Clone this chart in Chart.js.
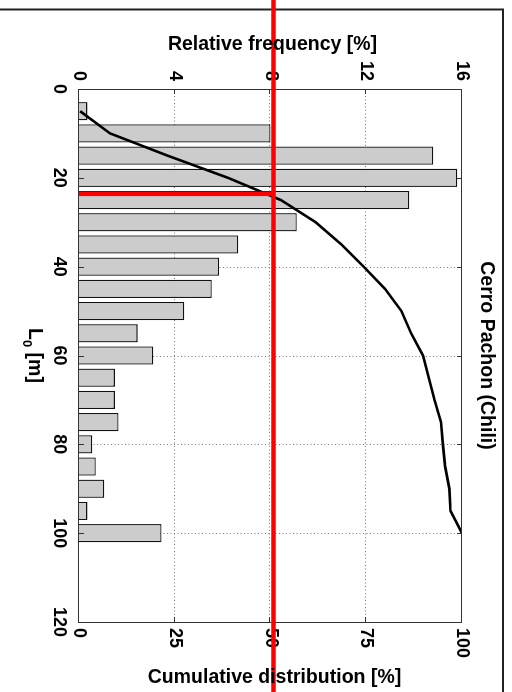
<!DOCTYPE html>
<html>
<head>
<meta charset="utf-8">
<script src="https://cdn.jsdelivr.net/npm/chart.js@4"></script>
<style>
  html, body { margin: 0; padding: 0; background: #fff; overflow: hidden; }
  #wrap {
    position: absolute; left: 0; top: 0;
    width: 692px; height: 512px;
    transform-origin: 0 0;
    transform: translate(512px, 0) rotate(90deg);
  }
  canvas { display: block; }
</style>
</head>
<body>
<div id="wrap"><canvas id="c" width="692" height="512" style="width:692px;height:512px"></canvas></div>
<script>
// ---- data ----
const L0 = [5, 10, 15, 20, 25, 30, 35, 40, 45, 50, 55, 60, 65, 70, 75, 80, 85, 90, 95, 100];
const relFreq = [0.35, 8.0, 14.8, 15.8, 13.8, 9.1, 6.65, 5.85, 5.55, 4.4, 2.45, 3.1, 1.5, 1.5, 1.65, 0.55, 0.7, 1.05, 0.35, 3.45];
const cumDist = [0.3, 8.1, 23.1, 38.9, 52.7, 61.8, 68.5, 74.3, 79.9, 84.2, 86.7, 89.8, 91.3, 92.8, 94.5, 95.0, 95.6, 96.7, 97.0, 100];
const L0Ticks = [0, 20, 40, 60, 80, 100, 120];
const freqTicks = [0, 4, 8, 12, 16];
const cumTicks = [0, 25, 50, 75, 100];
const medianCum = 50.8;   // red reference line (cumulative %)
const medianL0 = 23.6;    // red reference line (L0 in m)
const titleText = 'Cerro Pachon (Chili)';
const freqTitle = 'Relative frequency [%]';
const cumTitle = 'Cumulative distribution [%]';

const FONT = 'Arial, "Liberation Sans", Helvetica, sans-serif';

const decor = {
  id: 'decor',
  beforeDatasetsDraw(chart) {
    const { ctx, chartArea: a, scales } = chart;
    ctx.save();
    ctx.strokeStyle = '#777';
    ctx.lineWidth = 1;
    ctx.setLineDash([1, 2.5]);
    L0Ticks.slice(1, -1).forEach(v => {
      const x = Math.round(scales.x.getPixelForValue(v)) + 0.5;
      ctx.beginPath(); ctx.moveTo(x, a.top); ctx.lineTo(x, a.bottom); ctx.stroke();
    });
    freqTicks.slice(1, -1).forEach(v => {
      const y = Math.round(scales.y.getPixelForValue(v)) + 0.5;
      ctx.beginPath(); ctx.moveTo(a.left, y); ctx.lineTo(a.right, y); ctx.stroke();
    });
    ctx.restore();
  },
  afterDatasetsDraw(chart) {
    const { ctx, chartArea: a, scales } = chart;
    ctx.save();
    // plot box
    ctx.strokeStyle = '#333';
    ctx.lineWidth = 1;
    ctx.strokeRect(Math.round(a.left) + 0.5, Math.round(a.top) + 0.5,
                   Math.round(a.right - a.left), Math.round(a.bottom - a.top));
    // inward ticks
    const tl = 5;
    ctx.beginPath();
    L0Ticks.slice(1, -1).forEach(v => {
      const x = Math.round(scales.x.getPixelForValue(v)) + 0.5;
      ctx.moveTo(x, a.bottom); ctx.lineTo(x, a.bottom - tl);
      ctx.moveTo(x, a.top); ctx.lineTo(x, a.top + tl);
    });
    freqTicks.slice(1, -1).forEach(v => {
      const y = Math.round(scales.y.getPixelForValue(v)) + 0.5;
      ctx.moveTo(a.left, y); ctx.lineTo(a.left + tl, y);
    });
    cumTicks.slice(1, -1).forEach(v => {
      const y = Math.round(scales.y2.getPixelForValue(v)) + 0.5;
      ctx.moveTo(a.right, y); ctx.lineTo(a.right - tl, y);
    });
    ctx.stroke();

    // outer frame (partial, as in the reference)
    ctx.strokeStyle = '#222';
    ctx.lineWidth = 2;
    ctx.beginPath();
    ctx.moveTo(9.5, 512); ctx.lineTo(9.5, 9); ctx.lineTo(692, 9);
    ctx.stroke();

    // red reference lines
    ctx.strokeStyle = '#ff0000';
    ctx.lineWidth = 4.5;
    const yMed = scales.y2.getPixelForValue(medianCum);
    const xMed = scales.x.getPixelForValue(medianL0);
    ctx.beginPath();
    ctx.moveTo(0, yMed); ctx.lineTo(chart.width, yMed);
    ctx.moveTo(xMed, a.bottom); ctx.lineTo(xMed, yMed);
    ctx.stroke();

    // titles
    ctx.fillStyle = '#000';
    ctx.font = 'bold 19.5px ' + FONT;
    ctx.textAlign = 'center';
    ctx.textBaseline = 'middle';
    const cx = (a.left + a.right) / 2;
    const cy = (a.top + a.bottom) / 2;
    ctx.fillText(titleText, cx, 25.5);

    ctx.save();
    ctx.translate(45, cy - 2);
    ctx.rotate(-Math.PI / 2);
    ctx.fillText(freqTitle, 0, 0);
    ctx.restore();

    ctx.save();
    ctx.translate(678, cy - 4);
    ctx.rotate(-Math.PI / 2);
    ctx.fillText(cumTitle, 0, 0);
    ctx.restore();

    // L0 [m] with subscript
    ctx.textBaseline = 'alphabetic';
    ctx.textAlign = 'left';
    const big = 'bold 19.5px ' + FONT, small = 'bold 13px ' + FONT;
    ctx.font = big; const wL = ctx.measureText('L').width;
    ctx.font = small; const w0 = ctx.measureText('0').width;
    ctx.font = big; const wR = ctx.measureText(' [m]').width;
    let x0 = cx - (wL + w0 + wR) / 2;
    const base = 483;
    ctx.font = big; ctx.fillText('L', x0, base);
    ctx.font = small; ctx.fillText('0', x0 + wL, base + 6);
    ctx.font = big; ctx.fillText(' [m]', x0 + wL + w0, base);
    ctx.restore();
  }
};

const tickFont = { family: FONT, size: 18, weight: 'bold' };

new Chart(document.getElementById('c'), {
  type: 'bar',
  data: {
    datasets: [
      {
        type: 'line',
        label: 'Cumulative',
        data: L0.map((v, i) => ({ x: v, y: cumDist[i] })),
        yAxisID: 'y2',
        borderColor: '#000',
        borderWidth: 2.6,
        pointRadius: 0,
        tension: 0,
        fill: false,
        order: 0
      },
      {
        type: 'bar',
        label: 'Relative frequency',
        data: L0.map((v, i) => ({ x: v, y: relFreq[i] })),
        yAxisID: 'y',
        backgroundColor: '#cccccc',
        borderColor: '#111',
        borderWidth: 1.3,
        categoryPercentage: 1,
        barPercentage: 0.82,
        order: 1
      }
    ]
  },
  options: {
    responsive: false,
    animation: false,
    devicePixelRatio: 1,
    layout: { padding: { top: 50, left: 0, right: 0, bottom: 0 } },
    plugins: { legend: { display: false }, tooltip: { enabled: false }, title: { display: false } },
    scales: {
      x: {
        type: 'linear', position: 'bottom', min: 0, max: 120, offset: false,
        afterBuildTicks: s => { s.ticks = L0Ticks.map(v => ({ value: v })); },
        ticks: { font: tickFont, color: '#000', padding: 9, maxRotation: 0, minRotation: 0, autoSkip: false },
        grid: { display: false, drawTicks: false },
        border: { display: false },
        afterFit: s => { s.height = 79; }
      },
      y: {
        type: 'linear', position: 'left', min: 0, max: 16,
        afterBuildTicks: s => { s.ticks = freqTicks.map(v => ({ value: v })); },
        ticks: { font: tickFont, color: '#000', padding: 8 },
        grid: { display: false, drawTicks: false },
        border: { display: false },
        afterFit: s => { s.width = 89; }
      },
      y2: {
        type: 'linear', position: 'right', min: 0, max: 100,
        afterBuildTicks: s => { s.ticks = cumTicks.map(v => ({ value: v })); },
        ticks: { font: tickFont, color: '#000', padding: 6 },
        grid: { display: false, drawTicks: false },
        border: { display: false },
        afterFit: s => { s.width = 70; }
      }
    }
  },
  plugins: [decor]
});
</script>
</body>
</html>
